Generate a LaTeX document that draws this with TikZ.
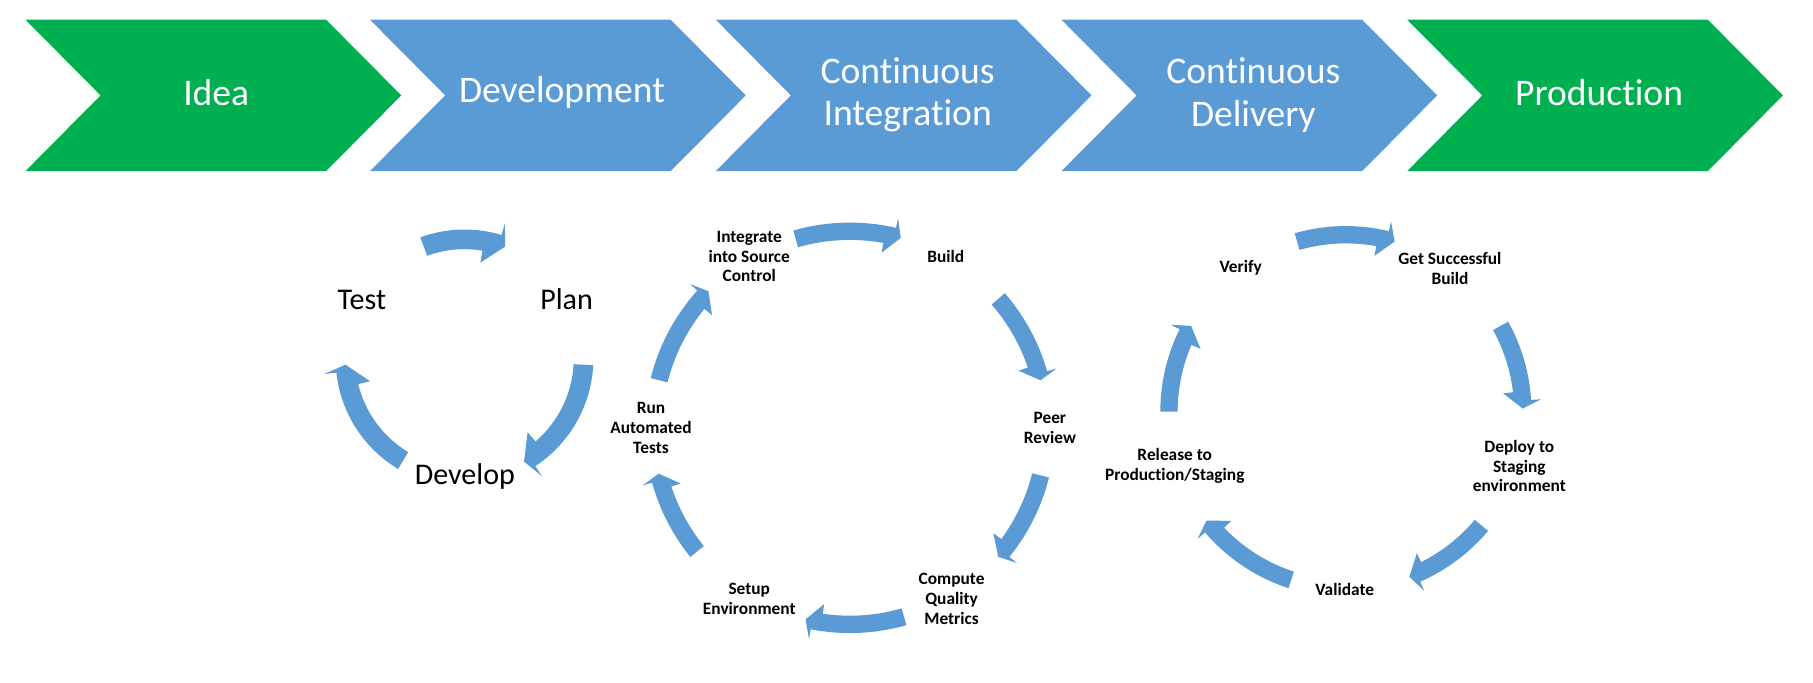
\documentclass[tikz,border=0pt]{standalone}
\usepackage{fontspec}
\setmainfont{Carlito}[Ligatures=CommonOff]
\usetikzlibrary{calc}
\definecolor{cgreen}{HTML}{00B050}
\definecolor{cblue}{HTML}{5B9BD5}
% chevron: #1 left x, #2 colour
\newcommand{\chevshape}[2]{%
  \fill[#2] (#1,17) -- ++(260,0) -- ++(65,65.5) -- ++(-65,65.5) -- ++(-260,0) -- ++(65,-65.5) -- cycle;}
% curved block arrow (clockwise on screen)
% #1 cx, #2 cy, #3 r, #4 start angle, #5 end angle, #6 half band, #7 half head,
% #8 outer head length, #9 inner head length
\newcommand{\cycarrow}[9]{%
  \begin{scope}[shift={(#1,#2)}]
    \pgfmathsetmacro\aA{-(#4)}%
    \pgfmathsetmacro\aB{-(#5)}%
    \pgfmathsetmacro\aCo{\aB-(#8)/(#3)*180/pi}%
    \pgfmathsetmacro\aCi{\aB-(#9)/(#3)*180/pi}%
    \pgfmathsetmacro\rO{#3+#6}%
    \pgfmathsetmacro\rI{#3-#6}%
    \pgfmathsetmacro\hO{#3+#7}%
    \pgfmathsetmacro\hI{#3-#7}%
    \fill[cblue] (\aA:\rO) arc[start angle=\aA, end angle=\aCo, radius=\rO]
      -- (\aCo:\hO) -- (\aB:#3) -- (\aCi:\hI) -- (\aCi:\rI)
      arc[start angle=\aCi, end angle=\aA, radius=\rI] -- cycle;
  \end{scope}}
\tikzset{
  chevtxt/.style={text=white, font=\fontsize{32.5}{37}\selectfont, align=center, inner sep=0pt},
  bigtxt/.style={text=black, font=\fontsize{26}{31}\selectfont, inner sep=0pt},
  smalltxt/.style={text=black, font=\bfseries\fontsize{15}{17}\selectfont, align=center, inner sep=0pt},
}
\begin{document}
\begin{tikzpicture}[x=1pt, y=-1pt]
\useasboundingbox (0,0) rectangle (1568,590);
\fill[white] (0,0) rectangle (1568,590);
% top chevrons
\chevshape{22}{cgreen}
\chevshape{320}{cblue}
\chevshape{619}{cblue}
\chevshape{918}{cblue}
\chevshape{1217}{cgreen}
\node[chevtxt] (idea) at (187,80) {Idea};
\node[chevtxt] (dev) at (486,80) {Development};
\node[chevtxt] (ci) at (785,82) {Continuous\\Integration};
\node[chevtxt] (cd) at (1084,82) {Continuous\\Delivery};
\node[chevtxt] (prod) at (1383,80) {Production};
% cycle 1
\coordinate (c1) at (401.7,310);
\node[bigtxt] (test) at (313,259) {Test};
\node[bigtxt] (plan) at (490,259) {Plan};
\node[bigtxt] (develop) at (402,412) {Develop};
\cycarrow{401.7}{310}{103}{110}{70}{8.5}{19}{6}{19}
\cycarrow{401.7}{310}{103}{-3}{-60}{8.5}{19}{6}{19}
\cycarrow{401.7}{310}{103}{239}{183}{8.5}{19}{6}{19}
% cycle 2
\coordinate (c2) at (735,370);
\node[smalltxt] (integ) at (648,222) {Integrate\\into Source\\Control};
\node[smalltxt] (build) at (818,222) {Build};
\node[smalltxt] (peer) at (908,370) {Peer\\Review};
\node[smalltxt] (compute) at (823,518) {Compute\\Quality\\Metrics};
\node[smalltxt] (setup) at (648,518) {Setup\\Environment};
\node[smalltxt] (run) at (563,370) {Run\\Automated\\Tests};
\cycarrow{735}{370}{170}{106}{75}{7.5}{16}{6}{14}
\cycarrow{735}{370}{170}{41}{14}{7.5}{16}{6}{14}
\cycarrow{735}{370}{170}{-14}{-41}{7.5}{16}{6}{14}
\cycarrow{735}{370}{170}{-74}{-103}{7.5}{16}{6}{14}
\cycarrow{735}{370}{170}{219}{193.5}{7.5}{16}{6}{14}
\cycarrow{735}{370}{170}{166}{136}{7.5}{16}{6}{14}
% cycle 3
\coordinate (c3) at (1164,356);
\node[smalltxt] (verify) at (1073,232) {Verify};
\node[smalltxt] (getb) at (1254,232) {Get Successful\\Build};
\node[smalltxt] (deploy) at (1314,403) {Deploy to\\Staging\\environment};
\node[smalltxt] (valid) at (1163,510) {Validate};
\node[smalltxt] (release) at (1016,403) {Release to\\Production/Staging};
\cycarrow{1164}{356}{153}{106}{74}{7.5}{16}{7}{15}
\cycarrow{1164}{356}{153}{29}{1}{7.5}{16}{7}{15}
\cycarrow{1164}{356}{153}{-40}{-69}{7.5}{16}{7}{15}
\cycarrow{1164}{356}{153}{252}{218}{7.5}{16}{7}{15}
\cycarrow{1164}{356}{153}{180}{151}{7.5}{16}{7}{15}
\end{tikzpicture}
\end{document}
